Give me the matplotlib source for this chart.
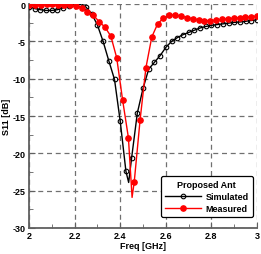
import numpy as np
import matplotlib
matplotlib.use("Agg")
import matplotlib.pyplot as plt
from matplotlib.ticker import MultipleLocator, FormatStrFormatter

plt.rcParams['font.family'] = ['Liberation Sans', 'DejaVu Sans']
plt.rcParams['font.weight'] = 'bold'

# Simulated: samples every 0.025 GHz
sim_freq = np.round(np.arange(2.0, 3.0001, 0.025), 3)
sim_db = [-0.35, -0.6, -0.75, -0.85, -0.85, -0.75, -0.5, -0.2, 0.0, -0.05,
          -0.4, -1.3, -2.8, -5.0, -7.6, -10.1, -15.7, -22.4, -20.6, -14.6,
          -11.3, -8.7, -7.8, -6.9, -5.8, -5.0, -4.5, -4.1, -3.8, -3.5,
          -3.2, -3.0, -2.85, -2.75, -2.65, -2.55, -2.45, -2.4, -2.3, -2.2,
          -2.1]
sim_dip = (2.437, -23.9)  # resonance point between samples

# Measured: 40 samples from 2 to 3 GHz
meas_freq = np.linspace(2.0, 3.0, 40)
meas_db = [-0.15, -0.1, -0.1, -0.05, -0.05, -0.1, -0.1, -0.15, -0.25, -0.5,
           -1.1, -1.5, -2.35, -3.1, -4.3, -7.2, -12.8, -17.9, -23.8, -15.5,
           -8.5, -4.4, -2.65, -1.86, -1.5, -1.45, -1.6, -1.8, -1.95, -2.1,
           -2.2, -2.2, -2.15, -2.05, -1.95, -1.9, -1.8, -1.75, -1.7, -1.6]
meas_dip = (2.452, -25.9)


def with_dip(freq, db, dip):
    i = int(np.searchsorted(freq, dip[0]))
    f = np.insert(np.asarray(freq, float), i, dip[0])
    d = np.insert(np.asarray(db, float), i, dip[1])
    marks = [k for k in range(len(f)) if k != i]
    return f, d, marks


fig = plt.figure(figsize=(2.61, 2.55), dpi=100)
ax = fig.add_axes([0.111, 0.102, 0.874, 0.878])

f, d, m = with_dip(sim_freq, sim_db, sim_dip)
ax.plot(f, d, color="black", lw=1.0, marker="o", ms=3.3, mfc="none",
        mec="black", mew=0.8, markevery=m, label="Simulated", zorder=3)

f, d, m = with_dip(meas_freq, meas_db, meas_dip)
ax.plot(f, d, color="#ff0000", lw=1.0, marker="o", ms=3.8, mfc="#ff0000",
        mec="#ff0000", markevery=m, label="Measured", zorder=4)

ax.set_xlim(2, 3)
ax.set_ylim(-30, 0)
ax.xaxis.set_major_locator(MultipleLocator(0.2))
ax.xaxis.set_minor_locator(MultipleLocator(0.1))
ax.yaxis.set_major_locator(MultipleLocator(5))
ax.yaxis.set_minor_locator(MultipleLocator(2.5))
ax.xaxis.set_major_formatter(FormatStrFormatter('%g'))
ax.yaxis.set_major_formatter(FormatStrFormatter('%g'))

ax.grid(True, which="major", color="#707070", ls=(0, (4, 3)), lw=0.9)
for s in ("top", "right"):
    ax.spines[s].set_visible(False)
for s in ("left", "bottom"):
    ax.spines[s].set_color("#606060")
    ax.spines[s].set_linewidth(1.3)

ax.tick_params(which="both", direction="in", colors="#606060",
               labelcolor="black", labelsize=6.5, pad=2.5)
ax.tick_params(which="major", length=4)
ax.tick_params(which="minor", length=3)

ax.set_xlabel("Freq [GHz]", fontsize=6.5, fontweight="bold", labelpad=0.5)
ax.set_ylabel("S11 [dB]", fontsize=6.5, fontweight="bold", labelpad=1)

leg = ax.legend(title="Proposed Ant", loc="lower right", fontsize=6.5,
                title_fontsize=6.5, handlelength=4.0, borderpad=0.45,
                labelspacing=0.3, handletextpad=0.5, fancybox=True,
                framealpha=1, edgecolor="black", bbox_to_anchor=(1.0, 0.03))
leg.get_title().set_fontweight("bold")
leg.get_frame().set_linewidth(0.9)

fig.savefig("out.png", dpi=100)
